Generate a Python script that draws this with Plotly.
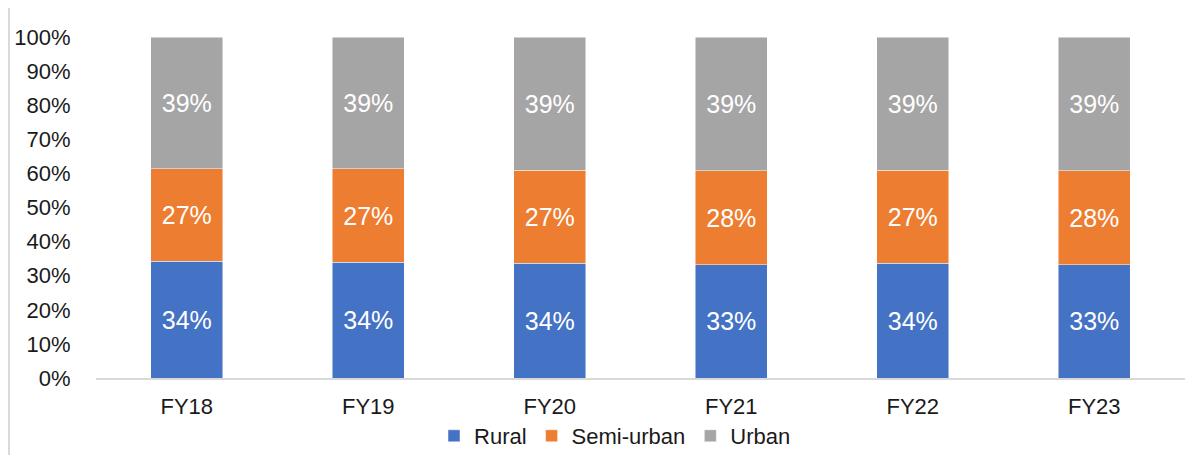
import plotly.graph_objects as go

# Data
years = ["FY18", "FY19", "FY20", "FY21", "FY22", "FY23"]
rural = [34.2, 33.9, 33.6, 33.2, 33.6, 33.2]
semi_urban = [27.1, 27.4, 27.3, 27.6, 27.3, 27.6]
urban = [38.7, 38.7, 39.1, 39.2, 39.1, 39.2]

SERIES = [
    ("Rural", rural, "#4472C4"),
    ("Semi-urban", semi_urban, "#ED7D31"),
    ("Urban", urban, "#A5A5A5"),
]

FONT = "Liberation Sans, Arial, sans-serif"

fig = go.Figure()
for name, vals, color in SERIES:
    fig.add_trace(go.Bar(
        x=years,
        y=vals,
        name=name,
        marker=dict(color=color, line=dict(color="rgba(255,255,255,0.6)", width=0.8)),
        texttemplate="%{y:.0f}%",
        textposition="inside",
        insidetextanchor="middle",
        textfont=dict(color="white", size=25, family=FONT),
        hovertemplate="%{x} " + name + ": %{y:.1f}%<extra></extra>",
    ))

# page body has an 8px margin, so the figure is sized a bit smaller
fig.update_layout(
    barmode="stack",
    bargap=0.603,
    width=1191,
    height=447,
    margin=dict(l=88, r=14, t=29, b=77, autoexpand=False),
    plot_bgcolor="white",
    paper_bgcolor="white",
    font=dict(family=FONT, size=22, color="#1a1a1a"),
    uniformtext=dict(minsize=10, mode="show"),
    showlegend=True,
    legend=dict(
        orientation="h",
        traceorder="normal",
        x=0.4766, xanchor="center",
        y=-0.17, yanchor="middle",
        font=dict(size=22, family=FONT),
        itemwidth=30,
        tracegroupgap=0,
    ),
    xaxis=dict(
        automargin=False,
        showline=True, linecolor="#d9d9d9", linewidth=2,
        ticks="outside", ticklen=8, tickcolor="rgba(0,0,0,0)",
        tickfont=dict(size=22, family=FONT),
        showgrid=False,
    ),
    yaxis=dict(
        automargin=False,
        range=[0, 100],
        dtick=10,
        ticksuffix="%",
        showgrid=False,
        zeroline=False,
        ticks="outside", ticklen=20, tickcolor="rgba(0,0,0,0)",
        tickfont=dict(size=22, family=FONT),
    ),
    shapes=[
        dict(type="line", xref="paper", yref="paper",
             x0=-0.0799, x1=-0.0799, y0=-0.3, y1=1.2,
             line=dict(color="#d9d9d9", width=2)),
    ],
)

fig.write_html("out.html")
